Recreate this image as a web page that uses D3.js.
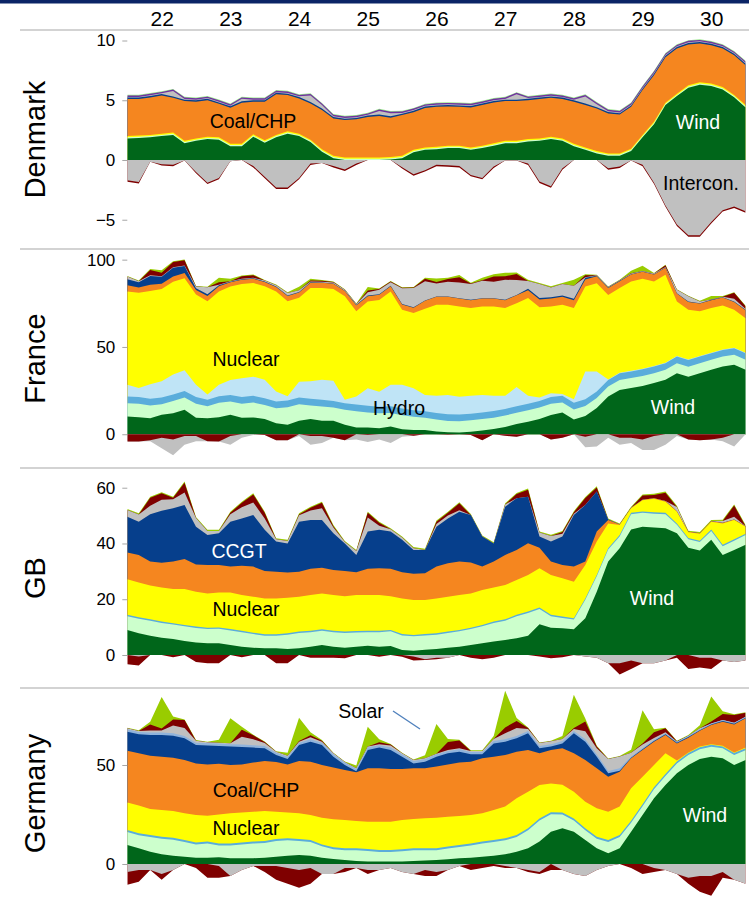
<!DOCTYPE html>
<html>
<head>
<meta charset="utf-8">
<script src="https://cdn.jsdelivr.net/npm/d3@7"></script>
<style>
  body { margin: 0; background: #fff; }
  svg { display: block; font-family: "Liberation Sans", Arial, sans-serif; }
</style>
</head>
<body>
<svg id="chart" width="749" height="899"></svg>
<script>
// Hours since 22nd 00:00, sampled every 4 hours
const hours = [0,4,8,12,16,20,24,28,32,36,40,44,48,52,56,60,64,68,72,76,80,84,88,92,96,100,104,108,112,116,120,124,128,132,136,140,144,148,152,156,160,164,168,172,176,180,184,188,192,196,200,204,208,212,216];
const dayLabels = ["22","23","24","25","26","27","28","29","30"];
const dayNoons = [12,36,60,84,108,132,156,180,204];

// ---------- Denmark (GW) ----------
const dkWind = [1.8,1.85,1.9,2.0,2.1,1.4,1.6,1.75,1.7,1.15,1.15,1.95,1.45,1.9,2.2,2.0,1.5,0.7,0.15,0,0,0,0,0.05,0.15,0.65,0.85,0.9,1.0,1.0,0.85,1.0,1.2,1.4,1.4,1.55,1.6,1.75,1.6,1.15,0.85,0.55,0.35,0.35,0.75,1.9,3.0,4.6,5.35,6.05,6.3,6.2,5.9,5.25,4.4];
const dkBio = [0.1,0.1,0.1,0.1,0.1,0.1,0.1,0.1,0.1,0.1,0.1,0.1,0.1,0.1,0.1,0.1,0.1,0.1,0.1,0.1,0.1,0.1,0.1,0.1,0.1,0.1,0.1,0.1,0.1,0.1,0.1,0.1,0.1,0.1,0.1,0.1,0.1,0.1,0.1,0.1,0.1,0.1,0.1,0.1,0.1,0.1,0.1,0.1,0.1,0.1,0.1,0.1,0.1,0.1,0.1];
const dkEdge = [0.1,0.1,0.1,0.1,0.1,0.1,0.1,0.1,0.1,0.1,0.1,0.1,0.1,0.1,0.1,0.1,0.1,0.1,0.1,0.1,0.1,0.1,0.1,0.1,0.1,0.1,0.1,0.1,0.1,0.1,0.1,0.1,0.1,0.1,0.1,0.1,0.1,0.1,0.1,0.1,0.1,0.1,0.1,0.1,0.1,0.1,0.1,0.1,0.1,0.1,0.1,0.1,0.1,0.1,0.1];
const dkCoal = [3.1,3.05,3.14,3.2,2.9,3.33,3.07,3.05,2.8,3.02,3.45,2.72,3.22,3.4,3.03,2.95,3.03,3.28,3.13,3.14,3.2,3.4,3.48,3.29,3.41,3.15,3.3,3.35,3.28,3.25,3.35,3.4,3.42,3.33,3.33,3.25,3.3,3.25,3.3,3.52,3.55,3.55,3.35,3.25,3.5,3.75,3.9,3.8,3.78,3.42,3.25,3.2,3.23,3.32,3.34];
const dkGas = [0.12,0.12,0.12,0.12,0.12,0.12,0.12,0.12,0.12,0.12,0.12,0.12,0.12,0.12,0.12,0.12,0.12,0.12,0.12,0.12,0.12,0.12,0.12,0.12,0.12,0.12,0.12,0.12,0.12,0.12,0.12,0.12,0.12,0.12,0.12,0.12,0.12,0.12,0.12,0.12,0.12,0.12,0.12,0.12,0.12,0.12,0.12,0.12,0.12,0.12,0.12,0.12,0.12,0.12,0.12];
const dkOther = [0.06,0.06,0.06,0.06,0.45,0.06,0.06,0.06,0.06,0.06,0.2,0.06,0.06,0.06,0.06,0.06,0.55,0.3,0.06,0.06,0.06,0.06,0.3,0.25,0.06,0.06,0.06,0.06,0.06,0.06,0.06,0.06,0.06,0.06,0.45,0.06,0.06,0.06,0.06,0.06,0.6,0.25,0.06,0.06,0.06,0.06,0.06,0.06,0.06,0.06,0.06,0.06,0.06,0.06,0.06];
const dkOil = [0.12,0.12,0.12,0.12,0.12,0.12,0.12,0.12,0.12,0.12,0.12,0.12,0.12,0.12,0.12,0.12,0.12,0.12,0.12,0.12,0.12,0.12,0.12,0.12,0.12,0.12,0.12,0.12,0.12,0.12,0.12,0.12,0.12,0.12,0.12,0.12,0.12,0.12,0.12,0.12,0.12,0.12,0.12,0.12,0.12,0.12,0.12,0.12,0.12,0.12,0.12,0.12,0.12,0.12,0.12];
const dkTop = [0.06,0.06,0.06,0.06,0.06,0.06,0.06,0.06,0.06,0.06,0.06,0.06,0.06,0.06,0.06,0.06,0.06,0.06,0.06,0.06,0.06,0.06,0.06,0.06,0.06,0.06,0.06,0.06,0.06,0.06,0.06,0.06,0.06,0.06,0.06,0.06,0.06,0.06,0.06,0.06,0.06,0.06,0.06,0.06,0.06,0.06,0.06,0.06,0.06,0.06,0.06,0.06,0.06,0.06,0.06];
const dkExport = [-1.7,-1.85,-0.15,-0.35,-0.4,-0.05,-1.0,-1.9,-1.5,-0.1,0,-0.5,-1.4,-2.3,-2.3,-1.5,-0.3,-0.25,-0.5,-0.8,-0.3,0,0,0,-0.6,-1.2,-0.85,-0.4,-0.45,-0.5,-1.25,-1.5,-0.55,-0.05,-0.05,-0.3,-1.8,-2.2,-0.7,0,0,0,-0.7,-0.55,-0.05,-0.4,-1.9,-3.8,-5.4,-6.3,-6.3,-5.2,-4.2,-3.9,-4.3];
const dkPump = [-0.12,-0.12,0,-0.12,-0.12,0,-0.12,-0.12,-0.12,0,0,-0.12,-0.12,-0.12,-0.12,-0.12,-0.12,0,-0.12,-0.12,-0.12,0,0,0,-0.12,-0.12,-0.12,-0.12,-0.12,-0.12,-0.12,-0.12,-0.12,0,0,-0.12,-0.12,-0.12,-0.12,0,0,0,-0.12,-0.12,0,-0.12,-0.12,-0.12,-0.12,-0.12,-0.12,-0.12,-0.12,-0.12,-0.12];

// ---------- France (GW) ----------
const frWind = [10.1,9.8,9.2,11.1,12,14,9.5,9.2,9.8,11.1,9.5,9.6,8.8,6.3,5.4,7.7,8.8,7.8,7.7,5.4,3.8,3.8,3.4,4.4,2.9,2.5,2.4,1.6,1.1,1.0,1.5,2.2,3.0,4.2,5.8,7.2,8.8,11,12.5,8.5,10.5,15,21.6,25.4,26.5,27.7,29.3,31.2,35,33,35,36.9,38.8,39.8,36.9];
const frBio = [7.7,7.7,7.3,6.1,7,7,8,6.8,8.2,7.6,8,8.6,8,8.6,10.1,9.5,7.7,8.1,7.6,8.6,9.4,8.7,8.6,7.8,8,7.5,7,6.8,6.5,6.5,6.5,6.5,6.5,6.5,6.5,6.5,6.5,6.5,5.7,5.7,5.7,5.7,5.7,5.7,5.7,5.7,5.7,5.7,5.7,5.7,5.7,5.7,5.7,5.7,5.7];
const frRoR = [3.8,3.8,3.8,3.8,3.8,3.8,3.8,3.8,3.8,3.8,3.8,3.8,3.8,3.8,3.8,3.8,3.8,3.8,3.8,3.8,3.8,3.8,3.8,3.8,3.8,3.8,3.8,3.8,3.8,3.8,3.8,3.8,3.8,3.8,3.8,3.8,3.8,3.8,3.8,3.8,3.8,3.8,3.8,3.8,3.8,3.8,3.8,3.8,3.8,3.8,3.8,3.8,3.8,3.8,3.8];
const frReservoir = [6.7,5.2,8.3,9.4,11.4,11.9,7.1,2.9,6.5,8.6,10.8,11,10.6,5.8,2.4,9,10,11.5,11.5,1.9,4.6,10.1,8.6,12.3,13.6,12.6,9.3,9.8,11.1,10.2,10.2,10,8.7,7.5,10.9,4.5,1.9,2.2,1,2,16,11.5,0.3,0.3,0.3,0.3,0.3,0.3,0.3,0.3,0.3,0.3,0.3,0.3,0.3];
const frNuclear = [53.5,54.5,53.5,52.8,53.2,52.6,51.7,53.5,53.5,53.5,53.9,53.6,53.5,57.3,54.5,48.2,53.5,52.5,52.6,59.3,48.8,49.7,52.5,53.5,43,43,49.4,52.2,51.7,51.7,50.3,50.7,51.2,50.3,48.1,56,51.7,49.7,51.2,52.3,48.6,50.5,48.4,48.5,51.2,51.5,48.4,50.3,31.3,28.5,25.6,25.6,25.2,21.7,19.8];
const frCoal = [3.5,3,3.5,3,3,3,2.5,3,3,2.5,2.5,2.5,2.5,2.5,3,3,3,3,3,3,3.5,3,3,3,3,3,4.5,4.5,4.5,4.5,4.5,4.5,4.5,4.5,4.5,4.5,4.5,4.5,4.5,4.5,4,4,4,4,4,4,4,4,4.5,4.5,4.5,4.5,4.5,4.5,4.5];
const frGas = [3.5,3,5,4,5,4,1,1,0.5,0.3,0.3,0.3,0.3,0.3,0.2,0.3,0.2,0.2,0.2,0.2,0.2,0.3,0.3,0.2,0.3,0.3,0.2,0.2,0.2,0.2,0.2,0.2,0.2,0.2,0.2,0.8,0.8,0.8,0.8,0.8,1,0.3,0.2,0.2,0.2,0.2,0.2,0.2,0.2,0.2,0.2,0.2,0.2,0.3,0.3];
const frOther = [1.5,0.7,0.5,0.3,0.3,0.3,1,4,0.3,0.2,0.2,0.2,0.5,0.8,1.5,1,0.5,0.5,0.5,0.5,0.5,2,2.5,2,9,11,11,7.5,8.5,9,9,10,9.5,11.5,8.5,4.5,8,5.6,6.5,7.5,0.3,0.3,0.3,0.3,0.3,0.3,0.3,0.3,2,3,1,0.2,0.2,1.5,0.5];
const frPumped = [0,0,3,2,3,3,0,0,1.5,0,1.5,1.5,0,0,0,0,0.5,0.5,0.3,0,0,1,0.5,0.5,0.3,0.3,1.5,0.8,1.5,3,0.3,0.3,3,2,3.5,0,0,0,0,0,1.2,0,0,0,0.2,0,0,1,0,0,0,0,0,3.5,1.5];
const frSolar = [0.3,0.3,0.5,1.5,0.4,0.5,0.3,0.3,2.5,1.5,0.4,0.4,0.3,0.3,0.5,2,1,0.5,0.3,0.3,0.3,2,0.3,0.3,0.3,0.3,0.6,2,0.8,1.3,0.5,1.5,1.2,2,0.8,0.7,0.6,0.6,0.6,3.4,0.5,0.3,0.3,0.3,1.5,3,0.3,0.3,0.3,0.3,0.3,2,0.5,0.3,0.3];
const frExport = [0,0,-0.5,-6,-9,-5,-3,0,0,-5,-2,-0.5,0,0,0,-1,-5,-4,0,0,-3,-4,-3,-5,-1.5,0,0,0,0,0,0,0,0,0,0,0,0,0,0,0,-6,-7,-2,-4,-3,-6,-8,-6,-1,0,0,0,-2,-7,0];
const frPump = [-4.2,-4.2,-3.5,-2,-3,-1,-1,-4,-4.2,-1,0,0,-0.5,-3.5,-3.5,0,-1,-1,-2,-3.5,0,-0.5,0,0,0,-0.8,0,0,-0.3,0,-0.5,-3.5,0,-0.8,-1.5,0,0,-3,-2,0,-1.5,0,0,-2,-2,-3,-1,0,0,-3,-3.5,-3,-2,0,0];

// ---------- GB (GW) ----------
const gbWind = [9.0,7.8,6.9,6.2,5.7,5.0,4.5,4.2,4.2,3.6,3.0,2.6,2.4,2.4,2.15,2.4,3.0,3.6,3.0,2.6,3.0,3.35,3.0,3.2,1.8,1.55,1.9,2.15,2.6,3.0,3.6,4.2,4.8,5.4,6.0,6.9,11,9.8,9.6,9.2,13.2,22.7,33.5,38.3,45,46,45.7,45.5,43.7,38.5,37.5,41.3,35.9,37.7,39.5];
const gbBio = [4.9,5.2,5.4,5.3,5.2,5.3,5.2,5.1,5.2,5.2,5.2,4.9,4.5,4.5,5.15,5.5,5.2,5.1,5.2,5.3,5.1,4.85,5.2,5.3,5.2,5.15,5.1,5.15,5.3,5.5,5.7,6.1,6.7,6.9,7.9,8.2,5.5,4.1,3.7,3.5,6.6,5.5,4.3,4.2,5.5,5,5,5,3,3,3,3.2,3.1,3.3,3.5];
const gbHydro = [0.5,0.5,0.5,0.5,0.5,0.5,0.5,0.5,0.5,0.5,0.5,0.5,0.5,0.5,0.5,0.5,0.5,0.5,0.5,0.5,0.5,0.5,0.5,0.5,0.5,0.5,0.5,0.5,0.5,0.5,0.5,0.5,0.5,0.5,0.5,0.5,0.5,0.5,0.5,0.5,0.5,0.5,0.5,0.5,0.5,0.5,0.5,0.5,0.5,0.5,0.5,0.5,0.5,0.5,0.5];
const gbNuclear = [12.8,12.5,12.1,12.2,12.3,12.9,12.5,12.3,12.5,13.1,12.8,12.9,12.9,12.9,12.7,12.5,12.8,12.9,12.8,12.7,12.9,12.8,12.8,12.1,12.8,12.5,12.2,12.5,12.5,12.5,12.3,12.5,12.2,12.3,12.5,13.1,14.1,14.3,13.7,13.1,12,12,8.9,3.6,1.6,4,4.8,4,4.2,2,2.5,2.8,7.7,6.9,2.5];
const gbCoal = [9.6,9.9,8.6,8.9,9.8,10.7,9.8,10.2,9.9,9.3,10.5,10.8,9.8,9.6,9.1,9.0,9.4,9.2,9.0,9.0,8.2,9.4,9.6,9.8,9.4,9.4,9.6,11.4,12,12,11.1,8.4,9.3,10.8,10.8,11.4,7.4,4.8,4.8,5.4,1.2,3.6,1.2,0.2,0.2,0.2,0.2,0.2,0.2,0.2,0.2,0.2,0.2,0.2,0.2];
const gbGas = [12.8,11.9,17,18.6,19.1,19.4,13.5,10.7,11.4,16.1,17,18.5,14.8,10.8,10.4,17.9,17.5,17.1,13.2,9.9,6.2,13.4,13.8,13.4,11.6,8.6,8.4,14.3,16.1,17.9,17,10.8,6.5,17.3,18.5,16.7,4,7.2,10.2,18.5,20.3,14.3,0.2,0,0,0,0,0,0,0,0,0,0,0,0];
const gbOther = [2.4,2.6,3,4,3.3,4.5,3.1,1.5,0.8,2.7,4,4.5,4.1,0.8,0.9,2.3,3.4,4.2,2,0.5,1.4,5,1.5,0.8,0.8,0.6,0,1,1,0.5,0,0,0,0.8,0,0,1.4,2,1,0.5,0,0,0,0,0,0,0,0,1.5,0,0,0,0.7,1,0];
const gbPumped = [0,0,2.9,2.3,0.5,3.5,0,0,0,0.5,1.6,2.9,2,0,0,0.3,1,2,0.5,0,0,1.7,1,0,0,0,0,0.8,1,2.5,0,0,0,0,1.5,2.5,0,0,0.6,0.5,2.5,1.5,0,0,0,1.5,1.2,3,0,0,0,0,0,4,0];
const gbRenew = [0.4,0.4,0.4,0.4,0.4,0.4,0.4,0.4,0.4,0.4,0.4,0.4,0.4,0.4,0.4,0.4,0.4,0.4,0.4,0.4,0.4,0.4,0.4,0.4,0.4,0.4,0.4,0.4,0.4,0.4,0.4,0.4,0.4,0.4,0.4,0.4,0.4,0.4,0.4,0.4,0.4,0.4,0.4,0.4,0.4,0.4,0.4,0.4,0.4,0.4,0.4,0.4,0.4,0.4,0.4];
const gbExport = [0,-0.5,0,0,0,0,0,0,0,0,0,0,0,0,0,0,0,0,0,0,0,0,0,0,0,-0.5,-1.5,-1,-1,0,0,0,0,0,0,0,0,0,0,0,-0.5,-1,-3,-3,-2,-3,-3,-2,0,0,-1,-1,-2,-2.5,-2];
const gbPump = [-3.3,-3.3,0,0,-0.8,0,-2.5,-3,-3,0,-0.8,0,0,-3,-3,0,-1,-1,-1,-1.2,0,0,-0.6,0,-0.6,-1.5,-0.3,-0.5,0,0,-1,-1.5,-1,0,0,0,-0.5,-1.2,-0.8,0,0,0,0,-4,-3,0,0,0,-1,-5,-3.5,-4,0,0,0];

// ---------- Germany (GW) ----------
const deWind = [9.6,7.9,6.2,4.9,4.2,3.7,3.2,3.2,3.4,2.9,2.9,2.9,3.2,3.7,4.2,4.5,4.2,3.2,2.5,2.0,1.5,1.2,1.2,1.2,1.2,1.5,1.8,2.0,2.4,2.9,3.2,3.7,4.2,4.9,6.2,7.9,11.3,16.3,18,16.3,12.1,7.9,5.4,7.9,16.3,24.7,33.2,39.9,45.8,50,53,54.2,53.4,50,52.5];
const deBio = [6.6,6.6,7.4,7.9,8.1,7.4,6.7,7.1,6,6.5,6.9,7.4,7.4,7.9,7.8,7.1,6.9,5.7,4.9,4.9,5.4,5.4,4.9,4.9,5.2,5.4,5.1,5,5.4,5.7,6.2,6.6,6.9,7.1,7.4,9.1,10.7,8.8,7,5.7,4.9,4.9,5.7,5.7,4.5,4.5,4.5,4.5,5,5,5,5,5,5,5];
const deRoR = [1,1,1,1,1,1,1,1,1,1,1,1,1,1,1,1,1,1,1,1,1,1,1,1,1,1,1,1,1,1,1,1,1,1,1,1,1,1,1,1,1,1,1,1,1,1,1,1,1,1,1,1,1,1,1];
const deNuclear = [13.9,14,13.2,13.5,13.5,13.5,13.8,13.1,14.6,15.2,15.2,15.1,15.2,13.8,13,13,12.6,13.5,14.2,14.3,13.8,13.8,14.3,14.3,14.8,14.8,15.2,15.4,15.1,14.7,14.3,14.3,15.2,16,18.6,18.5,16.9,14.6,14,13.5,13.5,14.3,14.3,14.4,16.4,13.9,11.3,10.5,0.5,0.3,0.3,0.3,0.3,0.3,0.3];
const deCoal = [26.1,26.4,26.9,26.9,26.9,26.9,26.1,25.9,25.6,24.4,24.3,24.8,25.2,25.1,24.3,26.4,27,26.6,26.2,25.3,24.6,26.9,26.9,26.6,25.8,25.6,25.2,25.8,26.4,27,27,27.8,26.9,26,23.5,21.1,16,16.9,18.4,19.4,21,20.2,17.7,17.6,15.2,13.5,11.8,9.3,8.6,7.5,8,9.7,12.2,14.2,14.8];
const deGas = [9.6,9.6,10.5,11,11.1,11,9.3,9.5,9,9.3,8.8,7.6,6.4,3.5,2.7,8.1,10.1,10.1,5.4,2.5,0.5,9.3,10.5,9.6,6.2,2.5,3.4,5,5.6,5.4,3.7,2,6.7,6.8,6.8,8.4,2.5,1.7,2.5,10.1,9.3,5.9,1.7,0.5,0.3,0.3,0.3,0.3,0.3,0.3,0.3,0.3,0.3,0.3,0.3];
const deHydro = [1.2,1.2,1.2,1.2,1.2,1.2,1.2,1.2,1.2,1.2,1.2,1.2,1.2,1.2,1.2,1.2,1.2,1.2,1.2,1.2,1.2,1.2,1.2,1.2,1.2,1.2,1.2,1.2,1.2,1.2,1.2,1.2,1.2,1.2,1.2,1.2,1.2,1.2,1.2,1.2,1.2,1.2,1.2,1.2,0.5,0.5,0.5,0.5,0.5,0.5,0.5,0.5,0.5,0.5,0.5];
const deOther = [0.5,0.5,1,1,4,4,1,0.5,0.5,0.5,4,3,1.5,0.5,0.5,0.5,1,0.5,0.5,0.3,0.3,0.5,0.5,1,0.5,0.5,0.5,0.3,0.5,0.5,0.5,0.5,1,3,4,1,1.5,1.5,1,1,4,3,6,6,2,2,1,0.5,0,0.2,0.5,0,0,0,0];
const dePumped = [0,0,3,1,3,4,0,0,0,0,3.5,2,0.5,0,0,0.3,1,0.5,0,0,0,0,1,0.5,0,0,0,0,4,4,0,0,0,3,3.5,0.5,0,0,0,0.5,5,1,0,0,0,0.5,3,2,0.3,0,0,1,3,4,2];
const deSolar = [0.3,0.3,1.5,16,1.5,0.3,0.3,0.3,1.5,12.6,1.5,0.3,0.3,0.3,1.5,11.8,1.5,0.3,0.3,0.3,1.5,10,1.5,0.3,0.3,0.3,1.5,15,1.5,0.3,0.3,0.3,1.5,18.5,1.5,0.3,0.3,0.3,1.5,16.8,1.5,0.3,0.3,0.3,1.5,16.8,1.5,0.3,0.3,0.3,1.5,12.6,1.5,0.3,0.3];
const deExport = [-4,-3,-3,-5,-3,0,0,0,-1,-6,-3,-1,-1,-1,-2,-3,-2,-5,-5,-2,-2,-3,-3,-2,-4,-5,-3,-4,-3,-1,0,0,0,-1,-2,-3,-4,0,-3,-5,-6,-3,-1,0,0,0,-2,-3,-5,-7,-6,-6,-4,-8,-10];
const dePump = [-6.5,-6,0,-3,0,0,-2,-7,-6,0,0,0,-3,-7,-8,-9,-8,0,0,-2,0,-2,0,0,0,0,-3,-2,0,0,-3,-2,-1,-1,0,-1,-1,-3,0,0,0,0,0,0,-2,-5,-2,0,0,-3,-8,-10,-3,0,0];

// Fuel colours shared by all panels
const COLORS = {
  wind: "#00661a", bio: "#ccffcc", ror: "#5aaddb", reservoir: "#bfe4f6",
  nuclear: "#ffff00", coal: "#f5861f", gas: "#063f8c", gasLight: "#8fb3dc",
  other: "#c0c0c0", pumped: "#7f0000", solar: "#99cc00", oil: "#7030a0", topGreen: "#99e68c"
};

const panels = [
  {
    name: "Denmark", top: 30, bottom: 249, domain: [-7.45, 10.88], ticks: [-5, 0, 5, 10],
    pos: [["wind", dkWind], ["bio", dkBio], ["nuclear", dkEdge], ["coal", dkCoal], ["gas", dkGas], ["other", dkOther], ["oil", dkOil], ["topGreen", dkTop]],
    neg: [["other", dkExport], ["pumped", dkPump]],
    notes: [["Coal/CHP", 253, 121, "#000"], ["Wind", 698, 122, "#fff"], ["Intercon.", 701, 183, "#000"]]
  },
  {
    name: "France", top: 249, bottom: 468, domain: [-19.33, 106.1], ticks: [0, 50, 100],
    pos: [["wind", frWind], ["bio", frBio], ["ror", frRoR], ["reservoir", frReservoir], ["nuclear", frNuclear], ["coal", frCoal], ["gas", frGas], ["other", frOther], ["pumped", frPumped], ["solar", frSolar]],
    neg: [["pumped", frPump], ["other", frExport]],
    notes: [["Nuclear", 246, 359, "#000"], ["Hydro", 399, 408, "#000"], ["Wind", 673, 407, "#fff"]]
  },
  {
    name: "GB", top: 468, bottom: 688, domain: [-11.84, 67.07], ticks: [0, 20, 40, 60],
    pos: [["wind", gbWind], ["bio", gbBio], ["ror", gbHydro], ["nuclear", gbNuclear], ["coal", gbCoal], ["gas", gbGas], ["other", gbOther], ["pumped", gbPumped], ["solar", gbRenew]],
    neg: [["other", gbExport], ["pumped", gbPump]],
    notes: [["CCGT", 239, 551, "#fff"], ["Nuclear", 246, 609, "#000"], ["Wind", 652, 598, "#fff"]]
  },
  {
    name: "Germany", top: 688, bottom: 899, domain: [-17.68, 88.89], ticks: [0, 50],
    pos: [["wind", deWind], ["bio", deBio], ["ror", deRoR], ["nuclear", deNuclear], ["coal", deCoal], ["gas", deGas], ["gasLight", deHydro], ["other", deOther], ["pumped", dePumped], ["solar", deSolar]],
    neg: [["other", deExport], ["pumped", dePump]],
    notes: [["Solar", 361, 711, "#000"], ["Coal/CHP", 256, 790, "#000"], ["Nuclear", 246, 828, "#000"], ["Wind", 705, 815, "#fff"]]
  }
];

const svg = d3.select("#chart");
const W = 749;
const x = d3.scaleLinear().domain([0, 216]).range([127.3, 745.6]);

// Title band and day axis
svg.append("rect").attr("x", 0).attr("y", 0).attr("width", W).attr("height", 3.5).attr("fill", "#0b2466");

const dayAxis = d3.axisTop(x).tickValues(dayNoons).tickSize(0).tickPadding(0)
  .tickFormat((d, i) => dayLabels[i]);
const dayG = svg.append("g").attr("transform", "translate(0,26)").call(dayAxis);
dayG.select(".domain").remove();
dayG.selectAll("text").attr("font-size", 21).attr("fill", "#000")
  .attr("font-family", "'Liberation Sans', Arial, sans-serif");

function stackRows(list) {
  return hours.map((h, i) => {
    const row = { h };
    list.forEach(([k, vals], j) => { row[k + j] = vals[i]; });
    return row;
  });
}

panels.forEach((p, pi) => {
  const y = d3.scaleLinear().domain(p.domain).range([p.bottom, p.top]);
  const g = svg.append("g");

  const clipId = "clip" + pi;
  svg.append("clipPath").attr("id", clipId).append("rect")
    .attr("x", x(0)).attr("y", p.top + 1).attr("width", x(216) - x(0)).attr("height", p.bottom - p.top - 1);

  // Each layer is filled from the zero line to its cumulative edge and painted
  // outermost first, so neighbouring layers meet without hairline gaps.
  const area = d3.area()
    .x(d => x(d.data.h))
    .y0(() => y(0))
    .y1(d => y(d[1]))
    .curve(d3.curveLinear);

  const plot = g.append("g").attr("clip-path", `url(#${clipId})`);

  [p.pos, p.neg].forEach(list => {
    const keys = list.map(([k], j) => k + j);
    const series = d3.stack().keys(keys).offset(d3.stackOffsetNone)(stackRows(list));
    const ordered = series.map((s, j) => ({ s, color: COLORS[list[j][0]] })).reverse();
    plot.selectAll(null).data(ordered).enter().append("path")
      .attr("d", o => area(o.s))
      .attr("fill", o => o.color);
  });

  // value axis
  const axis = d3.axisLeft(y).tickValues(p.ticks).tickSize(5).tickPadding(7).tickFormat(d3.format("d"));
  const ag = g.append("g").attr("transform", `translate(${x(0)},0)`).call(axis);
  ag.select(".domain").remove();
  ag.selectAll(".tick line").attr("stroke", "#a6a6a6");
  ag.selectAll("text").attr("font-size", 17).attr("fill", "#000")
    .attr("font-family", "'Liberation Sans', Arial, sans-serif");

  // panel separator
  svg.append("line").attr("x1", 20).attr("x2", W).attr("y1", p.top).attr("y2", p.top)
    .attr("stroke", "#c4c4c4").attr("stroke-width", 1.5);

  // country name
  const cy = (p.top + p.bottom) / 2;
  svg.append("text").attr("transform", `translate(35,${cy}) rotate(-90)`)
    .attr("text-anchor", "middle").attr("dominant-baseline", "central")
    .attr("font-size", 29).attr("fill", "#000").text(p.name);

  // in-chart labels
  p.notes.forEach(([t, nx, ny, c]) => {
    g.append("text").attr("x", nx).attr("y", ny).attr("text-anchor", "middle")
      .attr("dominant-baseline", "central").attr("font-size", 19.5).attr("fill", c).text(t);
  });
});

// leader from the "Solar" label to the solar peaks
svg.append("line").attr("x1", 393).attr("y1", 711).attr("x2", 420).attr("y2", 729)
  .attr("stroke", "#4f81bd").attr("stroke-width", 1.3);
</script>
</body>
</html>
